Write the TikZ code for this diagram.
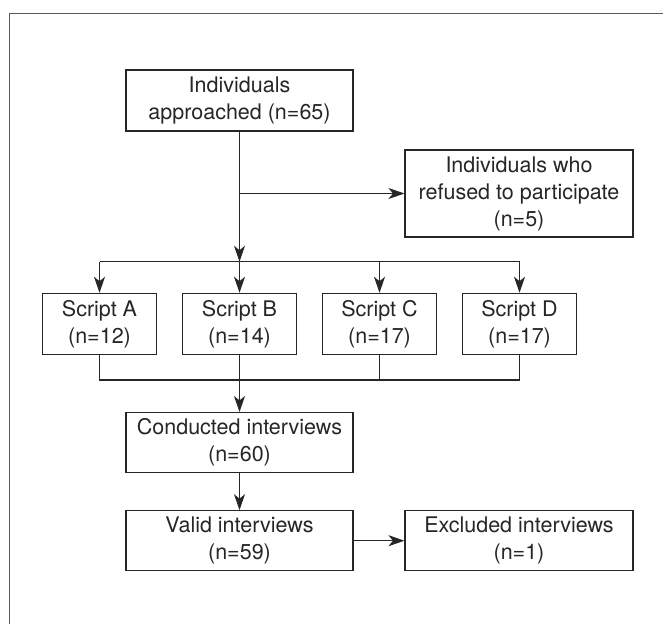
\documentclass[tikz,border=0pt]{standalone}
\usepackage{fontspec}
\setmainfont{TeX Gyre Heros}
\usetikzlibrary{arrows.meta}
\definecolor{ink}{HTML}{262626}
\definecolor{framegray}{HTML}{5A5A5A}
\begin{document}
\begin{tikzpicture}[x=1pt,y=-1pt,
  box/.style={draw=ink, line width=1.1pt, align=center, inner sep=0pt,
    font=\fontsize{21.5}{27}\selectfont, text=ink},
  widebox/.style={box, minimum width=227pt, minimum height=61pt},
  scriptbox/.style={box, minimum width=113.7pt, minimum height=61pt},
  ln/.style={draw=ink, line width=1.1pt},
  arr/.style={ln, -{Stealth[length=16pt,width=11pt,inset=4.5pt]}}]
\useasboundingbox (0,0) rectangle (663,624);
\draw[framegray, line width=1.5pt] (9.7,624) -- (9.7,13.3) -- (663,13.3);

\node[widebox] (app) at (239.5,100.5) {Individuals\\approached (n=65)};
\node[box, minimum width=228pt, minimum height=87pt] (ref) at (519,193.5)
  {Individuals who\\refused to participate\\(n=5)};
\node[scriptbox] (sa) at (99.5,323.8) {Script A\\(n=12)};
\node[scriptbox] (sb) at (239.5,323.8) {Script B\\(n=14)};
\node[scriptbox] (sc) at (379.5,323.8) {Script C\\(n=17)};
\node[scriptbox] (sd) at (519.5,323.8) {Script D\\(n=17)};
\node[widebox, minimum height=60pt] (con) at (239.5,442.5) {Conducted interviews\\(n=60)};
\node[widebox, minimum height=60pt] (val) at (239.5,540.7) {Valid interviews\\(n=59)};
\node[box, minimum width=228pt, minimum height=60pt] (exc) at (519,540.7) {Excluded interviews\\(n=1)};

\coordinate (bt) at (239.5,261.7);
\coordinate (bb) at (239.5,380);

\draw[arr] (app.south) -- (bt);
\draw[arr] (app.south |- ref.west) -- (ref.west);
\draw[ln] (sa.north |- bt) -- (sd.north |- bt);
\foreach \n in {sa,sb,sc,sd} \draw[arr] (\n.north |- bt) -- (\n.north);
\draw[ln] (sa.south) -- (sa.south |- bb) -- (sd.south |- bb) -- (sd.south);
\draw[ln] (sb.south) -- (sb.south |- bb);
\draw[ln] (sc.south) -- (sc.south |- bb);
\draw[arr] (con.north |- bb) -- (con.north);
\draw[arr] (con.south) -- (val.north);
\draw[arr] (val.east) -- (exc.west);
\end{tikzpicture}
\end{document}
